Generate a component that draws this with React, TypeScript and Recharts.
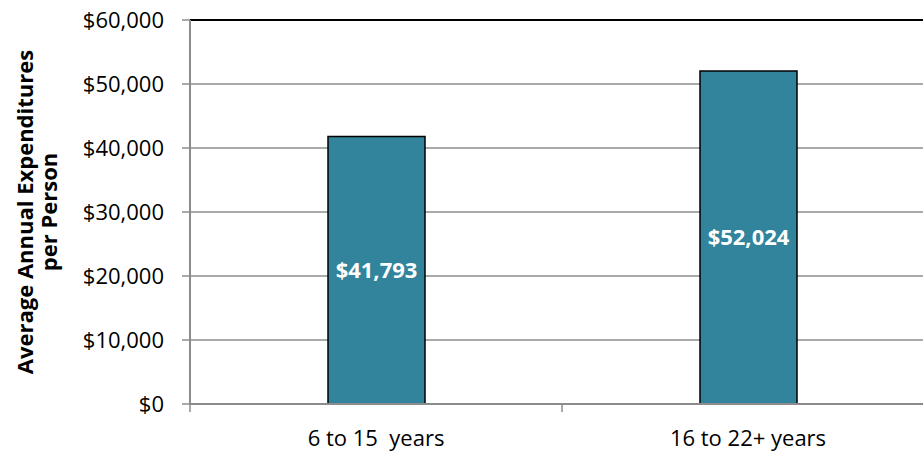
import {
  Bar,
  BarChart,
  CartesianGrid,
  LabelList,
  ReferenceLine,
  XAxis,
  YAxis,
} from "recharts";

const categories = ["6 to 15\u00a0 years", "16 to 22+ years"];
const expenditures = [41793, 52024];
const yTicks = [0, 10000, 20000, 30000, 40000, 50000, 60000];
const titleLines = ["Average Annual Expenditures", "per Person"];

const data = categories.map((name, i) => ({ name, value: expenditures[i] }));

const money = (v: number) => `$${Number(v).toLocaleString("en-US")}`;
const font = "'Open Sans', sans-serif";
const gray = "#8c8c8c";
const TICK = 8;
const GAP = 18;

function AxisTitle() {
  const cy = 212;
  return (
    <g fontFamily={font} fontWeight="bold" fontSize={22} fill="#000">
      <text x={33} y={cy} textAnchor="middle" transform={`rotate(-90 33 ${cy})`}>
        {titleLines[0]}
      </text>
      <text x={57} y={cy} textAnchor="middle" transform={`rotate(-90 57 ${cy})`}>
        {titleLines[1]}
      </text>
    </g>
  );
}

// category label plus the small divider tick Excel puts at each band edge
function CategoryTick(props: any) {
  const { x, y, payload } = props;
  const axisY = y - TICK - GAP;
  const edge = x - (payload.offset || 0);
  return (
    <g>
      <line x1={edge} x2={edge} y1={axisY} y2={axisY + TICK} stroke={gray} strokeWidth={1.5} />
      <text
        x={x}
        y={y}
        dy="0.71em"
        textAnchor="middle"
        fill="#000"
        fontSize={22}
        fontFamily={font}
        style={{ whiteSpace: "pre" }}
      >
        {payload.value}
      </text>
    </g>
  );
}

export default function App() {
  return (
    <div
      style={{
        position: "fixed",
        left: 0,
        top: 0,
        width: 923,
        height: 451,
        overflow: "hidden",
        background: "#fff",
      }}
    >
      <BarChart
        width={940}
        height={451}
        data={data}
        margin={{ top: 20, right: 6, left: 0, bottom: 0 }}
        barSize={97}
      >
        <CartesianGrid vertical={false} stroke={gray} strokeWidth={1.5} />
        <XAxis
          dataKey="name"
          height={47}
          axisLine={{ stroke: gray, strokeWidth: 2 }}
          tickLine={false}
          tickSize={TICK}
          tickMargin={GAP}
          tick={<CategoryTick />}
        />
        <YAxis
          width={190}
          domain={[0, 60000]}
          ticks={yTicks}
          tickFormatter={money}
          axisLine={{ stroke: gray, strokeWidth: 2 }}
          tickLine={{ stroke: gray, strokeWidth: 1.5 }}
          tickSize={TICK}
          tickMargin={18}
          tick={{ fill: "#000", fontSize: 22, fontFamily: font }}
          label={{ content: () => <AxisTitle /> }}
        />
        <ReferenceLine y={60000} stroke="#000" strokeWidth={2} />
        <Bar
          dataKey="value"
          fill="#31849b"
          stroke="#000"
          strokeWidth={1.5}
          isAnimationActive={false}
        >
          <LabelList
            dataKey="value"
            position="center"
            formatter={money}
            fill="#fff"
            fontSize={22}
            fontWeight="bold"
            fontFamily={font}
          />
        </Bar>
      </BarChart>
    </div>
  );
}
